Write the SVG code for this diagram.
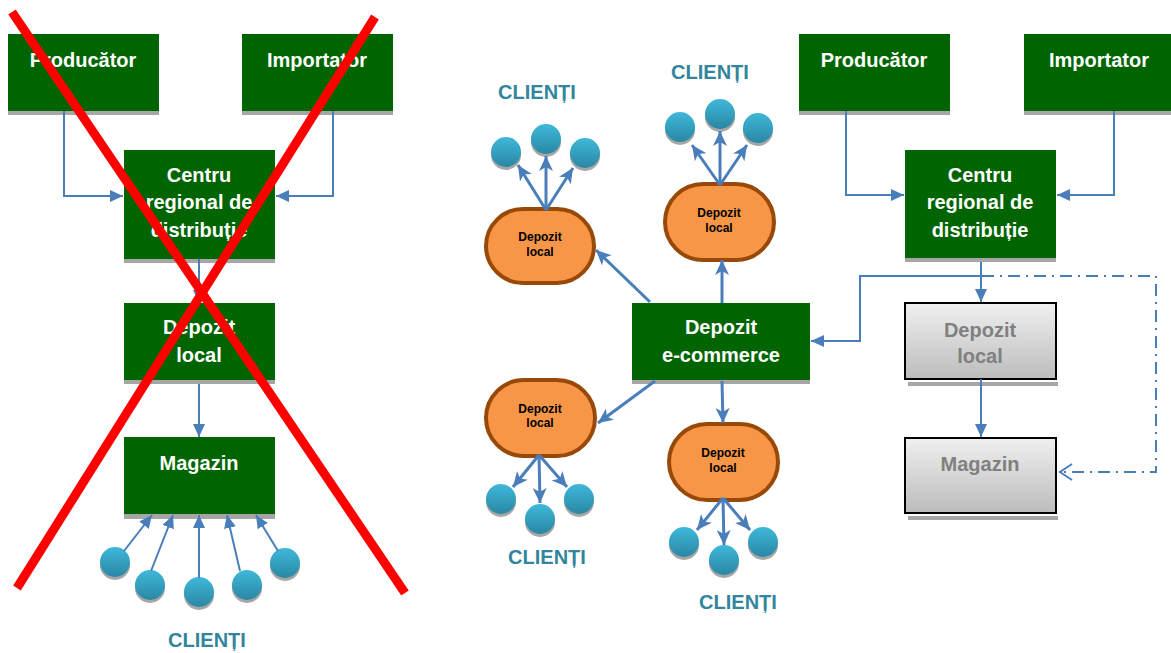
<svg xmlns="http://www.w3.org/2000/svg" width="1171" height="653" viewBox="0 0 1171 653">
<style>
.g{fill:#006400}
.sh{fill:#a6a6a6}
.t{font-family:"Liberation Sans",Arial,sans-serif;font-weight:bold;font-size:20px;fill:#fff;text-anchor:middle}
.tg{font-family:"Liberation Sans",Arial,sans-serif;font-weight:bold;font-size:20px;fill:#808080;text-anchor:middle}
.to{font-family:"Liberation Sans",Arial,sans-serif;font-weight:bold;font-size:12px;fill:#000;text-anchor:middle}
.cl{font-family:"Liberation Sans",Arial,sans-serif;font-weight:bold;font-size:20px;fill:#31859c;text-anchor:middle}
.c{fill:none;stroke:#4a7ebb;stroke-width:2}
.c3{fill:none;stroke:#4a7ebb;stroke-width:3}
.o{fill:#f79646;stroke:#984807;stroke-width:4}
.gb{fill:url(#gg);stroke:#000;stroke-width:2}
.x{stroke:#ff0000;stroke-width:9;stroke-linecap:butt}
</style>
<defs>
<linearGradient id="cg" x1="0" y1="0" x2="0" y2="1"><stop offset="0" stop-color="#3fb8da"/><stop offset="1" stop-color="#2a87a4"/></linearGradient>
<linearGradient id="gg" x1="0" y1="0" x2="0" y2="1"><stop offset="0" stop-color="#f0f0f0"/><stop offset="1" stop-color="#bcbcbc"/></linearGradient>
<marker id="a" markerUnits="userSpaceOnUse" markerWidth="14" markerHeight="12" refX="13" refY="6" orient="auto"><path d="M0,0 L13,6 L0,12 z" fill="#4a7ebb"/></marker>
<marker id="s" markerUnits="userSpaceOnUse" markerWidth="16" markerHeight="14" refX="15" refY="7" orient="auto"><path d="M0,0 L15,7 L0,14 L4,7 z" fill="#4a7ebb"/></marker>
<marker id="v" markerUnits="userSpaceOnUse" markerWidth="16" markerHeight="18" refX="14" refY="9" orient="auto"><path d="M2,1 L14,9 L2,17" fill="none" stroke="#4a7ebb" stroke-width="2"/></marker>
<g id="cir"><circle cx="0" cy="3" r="15" fill="#a6a6a6"/><circle cx="0" cy="0" r="15" fill="url(#cg)"/></g>
</defs>

<!-- LEFT SIDE -->
<g id="L-producator"><rect class="sh" x="8" y="38" width="151" height="77"/><rect class="g" x="8" y="34" width="151" height="77"/><text class="t" x="83" y="67">Producător</text></g>
<g id="L-importator"><rect class="sh" x="242" y="38" width="151" height="77"/><rect class="g" x="242" y="34" width="151" height="77"/><text class="t" x="317" y="67">Importator</text></g>
<g id="L-centru"><rect class="sh" x="124" y="154" width="151" height="109"/><rect class="g" x="124" y="150" width="151" height="109"/><text class="t" x="199" y="182">Centru</text><text class="t" x="199" y="209">regional de</text><text class="t" x="199" y="237">distribuție</text></g>
<g id="L-depozit"><rect class="sh" x="124" y="307" width="151" height="77"/><rect class="g" x="124" y="303" width="151" height="77"/><text class="t" x="199" y="334">Depozit</text><text class="t" x="199" y="362">local</text></g>
<g id="L-magazin"><rect class="sh" x="124" y="441" width="151" height="78"/><rect class="g" x="124" y="437" width="151" height="77"/><text class="t" x="199" y="470">Magazin</text></g>
<g id="L-clienti">
<use href="#cir" x="115" y="562"/><use href="#cir" x="150" y="585"/><use href="#cir" x="199" y="592"/><use href="#cir" x="247" y="585"/><use href="#cir" x="285" y="563"/>
<text class="cl" x="207" y="647">CLIENȚI</text>
</g>

<!-- RIGHT SIDE -->
<g id="R-producator"><rect class="sh" x="799" y="38" width="151" height="77"/><rect class="g" x="799" y="34" width="151" height="77"/><text class="t" x="874" y="67">Producător</text></g>
<g id="R-importator"><rect class="sh" x="1024" y="38" width="150" height="77"/><rect class="g" x="1024" y="34" width="150" height="77"/><text class="t" x="1099" y="67">Importator</text></g>
<g id="R-centru"><rect class="sh" x="905" y="154" width="151" height="108"/><rect class="g" x="905" y="150" width="151" height="108"/><text class="t" x="980" y="182">Centru</text><text class="t" x="980" y="209">regional de</text><text class="t" x="980" y="237">distribuție</text></g>
<g id="R-ecommerce"><rect class="sh" x="632" y="307" width="178" height="77"/><rect class="g" x="632" y="303" width="178" height="77"/><text class="t" x="721" y="334">Depozit</text><text class="t" x="721" y="362">e-commerce</text></g>
<g id="R-depozit-gri"><rect class="sh" x="908" y="382" width="150" height="4"/><rect class="gb" x="905" y="303" width="151" height="76"/><text class="tg" x="980" y="337">Depozit</text><text class="tg" x="980" y="363">local</text></g>
<g id="R-magazin-gri"><rect class="sh" x="908" y="516" width="150" height="4"/><rect class="gb" x="905" y="438" width="151" height="75"/><text class="tg" x="980" y="471">Magazin</text></g>

<g id="O1"><rect class="o" x="486" y="209" width="108" height="74" rx="37"/><text class="to" x="540" y="241">Depozit</text><text class="to" x="540" y="256">local</text></g>
<g id="O2"><rect class="o" x="665" y="184" width="109" height="76" rx="38"/><text class="to" x="719" y="217">Depozit</text><text class="to" x="719" y="232">local</text></g>
<g id="O3"><rect class="o" x="486" y="380" width="109" height="76" rx="38"/><text class="to" x="540" y="413">Depozit</text><text class="to" x="540" y="427">local</text></g>
<g id="O4"><rect class="o" x="669" y="424" width="109" height="76" rx="38"/><text class="to" x="723" y="457">Depozit</text><text class="to" x="723" y="472">local</text></g>

<g id="C1"><use href="#cir" x="506" y="152"/><use href="#cir" x="546" y="139"/><use href="#cir" x="585" y="153"/><text class="cl" x="537" y="99">CLIENȚI</text></g>
<g id="C2"><use href="#cir" x="680" y="127"/><use href="#cir" x="720" y="114"/><use href="#cir" x="758" y="128"/><text class="cl" x="710" y="79">CLIENȚI</text></g>
<g id="C3"><use href="#cir" x="501" y="499"/><use href="#cir" x="540" y="519"/><use href="#cir" x="579" y="499"/><text class="cl" x="547" y="564">CLIENȚI</text></g>
<g id="C4"><use href="#cir" x="684" y="542"/><use href="#cir" x="724" y="560"/><use href="#cir" x="763" y="542"/><text class="cl" x="738" y="609">CLIENȚI</text></g>

<!-- CONNECTORS -->
<g id="connectors">
<path class="c" d="M64,111 V196 H123" marker-end="url(#a)"/>
<path class="c" d="M333,111 V196 H276" marker-end="url(#a)"/>
<path class="c" d="M199,259 V303" marker-end="url(#a)"/>
<path class="c" d="M199,384 V437" marker-end="url(#a)"/>
<path class="c" d="M124,551 L152,515" marker-end="url(#a)" stroke-width="2.5"/>
<path class="c" d="M151,571 L173,515" marker-end="url(#a)" stroke-width="2.5"/>
<path class="c" d="M199,578 L199,515" marker-end="url(#a)" stroke-width="2.5"/>
<path class="c" d="M240,571 L227,515" marker-end="url(#a)" stroke-width="2.5"/>
<path class="c" d="M278,551 L256,515" marker-end="url(#a)" stroke-width="2.5"/>

<path class="c" d="M846,111 V195 H904" marker-end="url(#a)"/>
<path class="c" d="M1114,111 V195 H1057" marker-end="url(#a)"/>
<path class="c" d="M981,262 V302" marker-end="url(#a)"/>
<path class="c" d="M981,276 H860 V341 H811" marker-end="url(#a)"/>
<path class="c" d="M981,379 V437" marker-end="url(#a)"/>
<path class="c" d="M982,276 H1156 V472 H1060" stroke-dasharray="12,6,2,6" marker-end="url(#v)"/>

<path class="c3" d="M650,302 L596,250" marker-end="url(#s)"/>
<path class="c3" d="M722,303 L722,260" marker-end="url(#s)"/>
<path class="c3" d="M655,381 L598,423" marker-end="url(#s)"/>
<path class="c3" d="M722,381 L723,423" marker-end="url(#s)"/>

<path class="c3" d="M546,210 L518,165" marker-end="url(#s)"/>
<path class="c3" d="M546,210 L546,156" marker-end="url(#s)"/>
<path class="c3" d="M546,210 L573,168" marker-end="url(#s)"/>
<path class="c3" d="M720,185 L692,145" marker-end="url(#s)"/>
<path class="c3" d="M720,185 L720,131" marker-end="url(#s)"/>
<path class="c3" d="M720,185 L747,145" marker-end="url(#s)"/>
<path class="c3" d="M539,455 L513,487" marker-end="url(#s)"/>
<path class="c3" d="M539,455 L540,503" marker-end="url(#s)"/>
<path class="c3" d="M539,455 L567,487" marker-end="url(#s)"/>
<path class="c3" d="M723,498 L697,530" marker-end="url(#s)"/>
<path class="c3" d="M723,498 L724,545" marker-end="url(#s)"/>
<path class="c3" d="M723,498 L750,530" marker-end="url(#s)"/>
</g>

<g id="cross">
<line class="x" x1="12" y1="12" x2="405" y2="593"/>
<line class="x" x1="375" y1="17" x2="17" y2="588"/>
</g>
</svg>
